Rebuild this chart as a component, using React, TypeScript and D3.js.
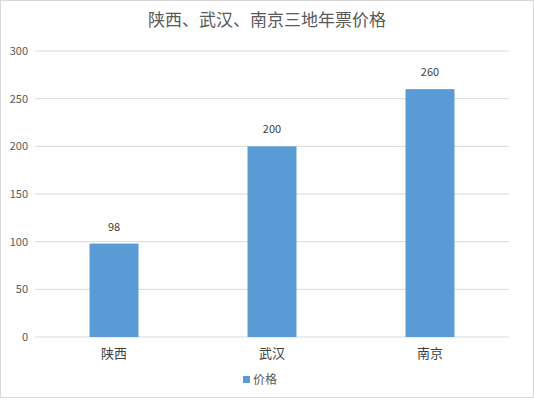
import * as React from 'react'
import * as d3 from 'd3'

const categories = ['陕西', '武汉', '南京']
const prices = [98, 200, 260]
const yTicks = [0, 50, 100, 150, 200, 250, 300]
const title = '陕西、武汉、南京三地年票价格'
const seriesName = '价格'

const W = 534
const H = 400
const FONT = '"Noto Sans CJK SC", "Microsoft YaHei", sans-serif'

export default function App() {
  const left = 35
  const right = 509
  const top = 51
  const bottom = 337

  const x = d3.scaleBand<string>().domain(categories).range([left, right]).paddingInner(0.69).paddingOuter(0.345)
  const y = d3.scaleLinear().domain([0, 300]).range([bottom, top])

  return (
    <div style={{ position: 'fixed', left: 0, top: 0 }}>
      <svg width={W} height={H} style={{ display: 'block', fontFamily: FONT }}>
        <rect x={0.5} y={0.5} width={W - 1} height={H - 3} fill="#fff" stroke="#d9d9d9" />
        <text x={W / 2} y={26} textAnchor="middle" fontSize={17} fill="#595959">{title}</text>

        {yTicks.map(t => (
          <g key={t}>
            <line x1={left} x2={right} y1={y(t)} y2={y(t)} stroke="#d9d9d9" strokeWidth={1} />
            <text x={28} y={y(t)} dy="0.35em" textAnchor="end" fontSize={11} fill="#595959">{t}</text>
          </g>
        ))}

        {categories.map((c, i) => (
          <g key={c}>
            <rect x={x(c)} y={y(prices[i])} width={x.bandwidth()} height={y(0) - y(prices[i])} fill="#5b9bd5" />
            <text x={x(c)! + x.bandwidth() / 2} y={y(prices[i]) - 13} textAnchor="middle" fontSize={11} fill="#404040">{prices[i]}</text>
            <text x={x(c)! + x.bandwidth() / 2} y={358} textAnchor="middle" fontSize={13} fill="#404040">{c}</text>
          </g>
        ))}

        <rect x={243} y={376} width={7} height={7} fill="#5b9bd5" />
        <text x={253} y={384} fontSize={12} fill="#595959">{seriesName}</text>
      </svg>
    </div>
  )
}
